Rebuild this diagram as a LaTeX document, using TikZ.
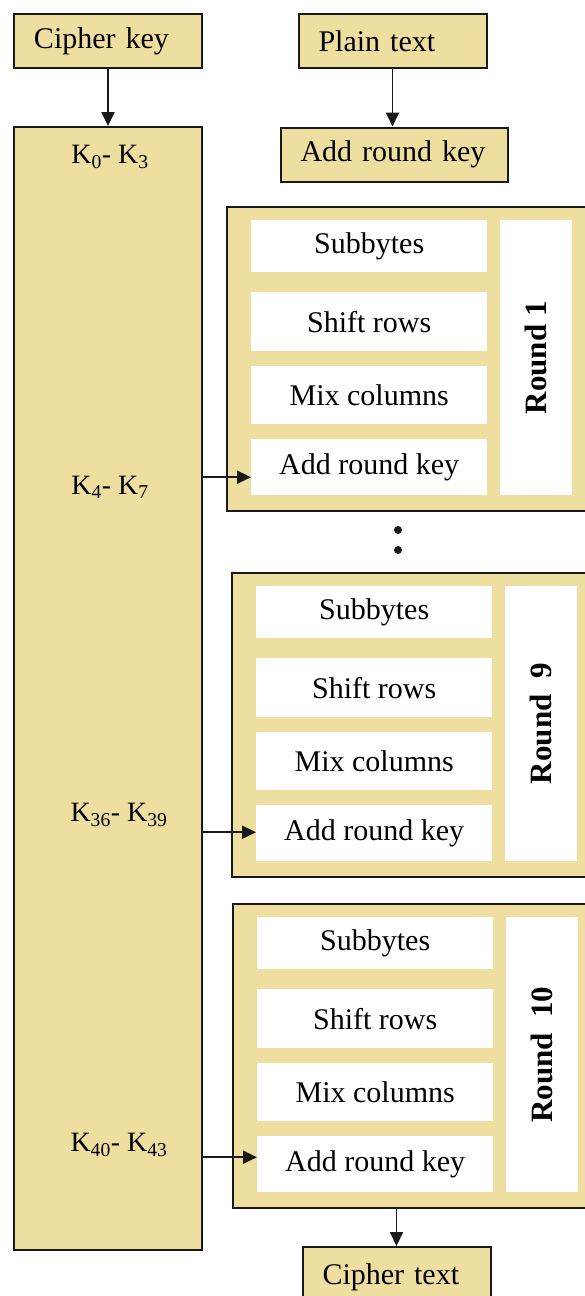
\documentclass[tikz,border=0pt]{standalone}
\usepackage{fontspec}
\setmainfont{Liberation Serif}
\usetikzlibrary{arrows.meta}
\definecolor{tan}{RGB}{238,222,160}
\definecolor{edge}{RGB}{25,25,25}

% one AES round: #1 name, #2 left x, #3 top y, #4 round label
\newcommand\aesround[4]{%
  \node[frame, minimum width=420pt, minimum height=304pt, anchor=north west] (#1) at (#2,#3) {};
  \node[stepbox, minimum height=52pt] (#1sb)  at (#2+25,#3+14)  {Subbytes};
  \node[stepbox, minimum height=59pt] (#1sr)  at (#2+25,#3+86)  {Shift rows};
  \node[stepbox, minimum height=58pt] (#1mc)  at (#2+25,#3+160) {Mix columns};
  \node[stepbox, minimum height=56pt] (#1ark) at (#2+25,#3+233) {Add round key};
  \node[labelbox] (#1lab) at (#2+274,#3+14) {};
  \node[roundlabel] (#1txt) at (#1lab.center) {#4};
}

\begin{document}
\begin{tikzpicture}[x=1pt,y=-1pt,
  every node/.style={font=\fontsize{30}{36}\selectfont},
  frame/.style={draw=edge, line width=2pt, fill=tan, inner sep=0pt},
  topbox/.style={frame, minimum height=54pt, text width=#1, inner xsep=20pt, align=left},
  stepbox/.style={fill=white, inner sep=0pt, minimum width=236pt, anchor=north west},
  labelbox/.style={fill=white, inner sep=0pt, minimum width=72pt, minimum height=275pt, anchor=north west},
  roundlabel/.style={font=\bfseries\fontsize{31}{36}\selectfont, rotate=90},
  klabel/.style={font=\fontsize{28}{34}\selectfont},
  arr/.style={draw=edge, line width=1.8pt, -{Triangle[length=14pt,width=13pt]}},
]
\useasboundingbox (0,0) rectangle (585,1296);

% inputs
\node[topbox=148pt] (ck) at (108,41) {Cipher key};
\node[topbox=148pt] (pt) at (392.5,41) {Plain text};
\node[topbox=187pt] (ark0) at (394,154.5) {Add round key};

% key schedule column
\node[frame, minimum width=188pt, minimum height=1123pt] (keys) at (108,688.5) {};
\node[klabel] (k0) at (110,157) {K\textsubscript{0}- K\textsubscript{3}};
\node[klabel] (k4) at (110,487) {K\textsubscript{4}- K\textsubscript{7}};
\node[klabel] (k36) at (119,815) {K\textsubscript{36}- K\textsubscript{39}};
\node[klabel] (k40) at (119,1145) {K\textsubscript{40}- K\textsubscript{43}};

% rounds
\aesround{ra}{226}{206}{Round 1}
\aesround{rb}{231}{572}{Round\ \ 9}
\aesround{rc}{232}{903}{Round\ \ 10}

% ellipsis between rounds
\fill[edge] (398,530) circle (4pt) (398,550) circle (4pt);

% output
\node[topbox=148pt, minimum height=60pt, anchor=north] (ct) at (396.5,1246) {Cipher text};

% connectors
\draw[arr] (ck.south) -- (keys.north);
\draw[arr] (pt.south) -- (pt.south |- ark0.north);
\draw[arr] ([yshift=-10pt]raark.west -| keys.east) -- ([yshift=-10pt]raark.west);
\draw[arr] ([yshift=1pt]rbark.west -| keys.east) -- ([yshift=1pt]rbark.west);
\draw[arr] ([yshift=7pt]rcark.west -| keys.east) -- ([yshift=7pt]rcark.west);
\draw[arr] (ct.north |- rc.south) -- (ct.north);
\end{tikzpicture}
\end{document}
